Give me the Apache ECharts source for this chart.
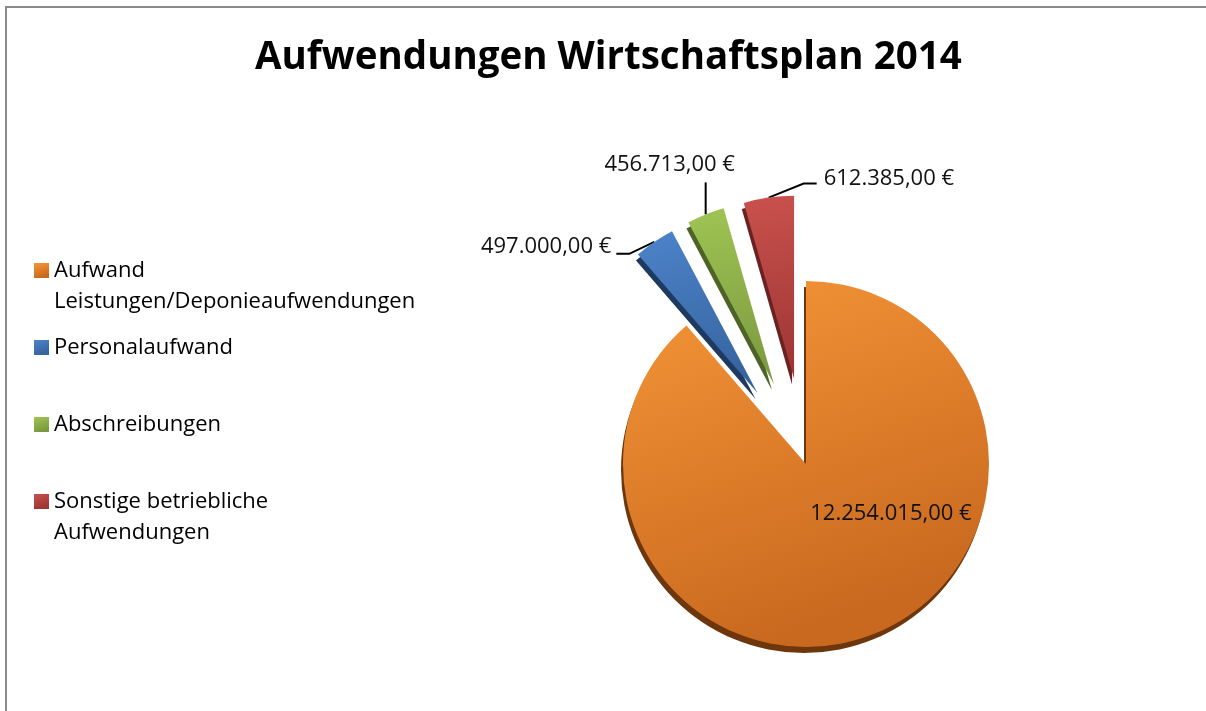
<!DOCTYPE html>
<html>
<head>
<meta charset="utf-8">
<script src="https://cdn.jsdelivr.net/npm/echarts@6/dist/echarts.min.js"></script>
<style>
html,body{margin:0;padding:0;background:#fff;}
#chart{width:1206px;height:711px;}
</style>
</head>
<body>
<div id="chart"></div>
<script>
var titleText = 'Aufwendungen Wirtschaftsplan 2014';
var categories = [
  'Aufwand\nLeistungen/Deponieaufwendungen',
  'Personalaufwand',
  'Abschreibungen',
  'Sonstige betriebliche\nAufwendungen'
];
var values = [12254015.00, 497000.00, 456713.00, 612385.00];
var exploded = [false, true, true, true];

var topColors = [['#F69638', '#C9691F'], ['#4C83C9', '#3764A0'], ['#A0C453', '#7B9A40'], ['#C9514D', '#9D3533']];
var depthColors = ['#6E360C', '#1E3A60', '#4E6426', '#6A2220'];

var FONT = 'Open Sans';
var CENTER = [806, 464];
var RADIUS = 183;
var EXPLODE = 86;
var DEPTH = [-2, 6];

function fmtEuro(v) {
  var s = v.toFixed(2).split('.');
  var ip = s[0].replace(/\B(?=(\d{3})+(?!\d))/g, '.');
  return ip + ',' + s[1] + ' \u20AC';
}
function grad(c) {
  return new echarts.graphic.LinearGradient(0, 0, 0.35, 1, [
    {offset: 0, color: c[0]}, {offset: 1, color: c[1]}
  ]);
}

// mid angle of each slice (degrees, pie starts at 12 o'clock, clockwise)
var total = values.reduce(function (a, b) { return a + b; }, 0);
var midAngles = [];
(function () {
  var cum = 0;
  values.forEach(function (v) {
    midAngles.push(90 - (cum + v / 2) / total * 360);
    cum += v;
  });
})();
function sliceCenter(i, extra) {
  var d = exploded[i] ? EXPLODE : 0;
  var a = midAngles[i] * Math.PI / 180;
  return [CENTER[0] + d * Math.cos(a) + extra[0], CENTER[1] - d * Math.sin(a) + extra[1]];
}

// leader-line / label offsets relative to each slice's label anchor (style only)
var leader = {
  1: {p1: [-25, 12], p2: [-38, 12], t: [-43, 5], align: 'right'},
  2: {p1: [0, -32], p2: [0, -32], t: [-36, -50], align: 'center'},
  3: {p1: [35, -14], p2: [48, -14], t: [55, -19], align: 'left'}
};

var hidden = 'rgba(0,0,0,0)';
var series = [];
categories.forEach(function (name, k) {
  // depth (3D side) layer
  series.push({
    type: 'pie', z: 2, silent: true, animation: false,
    center: sliceCenter(k, DEPTH), radius: RADIUS,
    startAngle: 90, clockwise: true,
    label: {show: false}, labelLine: {show: false},
    emphasis: {disabled: true}, legendHoverLink: false,
    data: categories.map(function (n, i) {
      return {name: n, value: values[i], itemStyle: {color: i === k ? depthColors[i] : hidden}};
    })
  });
  // top face
  series.push({
    type: 'pie', z: 3, animation: false,
    center: sliceCenter(k, [0, 0]), radius: RADIUS,
    startAngle: 90, clockwise: true,
    avoidLabelOverlap: false,
    label: {
      show: true, position: k === 0 ? 'inside' : 'outside', color: '#111',
      fontFamily: FONT, fontSize: 22,
      formatter: function (p) { return fmtEuro(p.value); }
    },
    labelLine: {show: k !== 0, lineStyle: {color: '#000', width: 2}, length: 15, length2: 15},
    labelLayout: function (p) {
      if (p.dataIndex !== k) return {};
      if (k === 0) return {dx: 52, dy: -39};
      var L = leader[k];
      var pts = p.labelLinePoints;
      if (!pts) return {};
      var a = pts[0];
      return {
        x: a[0] + L.t[0], y: a[1] + L.t[1], align: L.align, verticalAlign: 'middle',
        labelLinePoints: [a, [a[0] + L.p1[0], a[1] + L.p1[1]], [a[0] + L.p2[0], a[1] + L.p2[1]]]
      };
    },
    emphasis: {disabled: true},
    data: categories.map(function (n, i) {
      var on = i === k;
      return {
        name: n, value: values[i],
        itemStyle: {color: on ? grad(topColors[i]) : hidden},
        label: {show: on}, labelLine: {show: on && k !== 0}
      };
    })
  });
});

var chart = echarts.init(document.getElementById('chart'), null, {renderer: 'canvas'});
chart.setOption({
  animation: false,
  title: {
    text: titleText, left: 250, top: 34,
    textStyle: {fontFamily: FONT, fontWeight: 'bold', fontSize: 38.5, color: '#000'}
  },
  graphic: [{
    type: 'rect', silent: true, z: 100,
    shape: {x: 6, y: 7, width: 1400, height: 900},
    style: {fill: 'none', stroke: '#8a8a8a', lineWidth: 2}
  }],
  legend: {
    orient: 'vertical', left: 29, top: 219,
    itemWidth: 15, itemHeight: 15, itemGap: -16,
    icon: 'rect', selectedMode: false,
    textStyle: {fontFamily: FONT, fontSize: 22, color: '#000', lineHeight: 31},
    formatter: function (n) {
      return n.indexOf('\n') >= 0 ? ' \n' + n : ' \n' + n + '\n ';
    },
    data: categories.map(function (n, i) {
      return {name: n, itemStyle: {color: grad(topColors[i])}};
    })
  },
  series: series
});
</script>
</body>
</html>
